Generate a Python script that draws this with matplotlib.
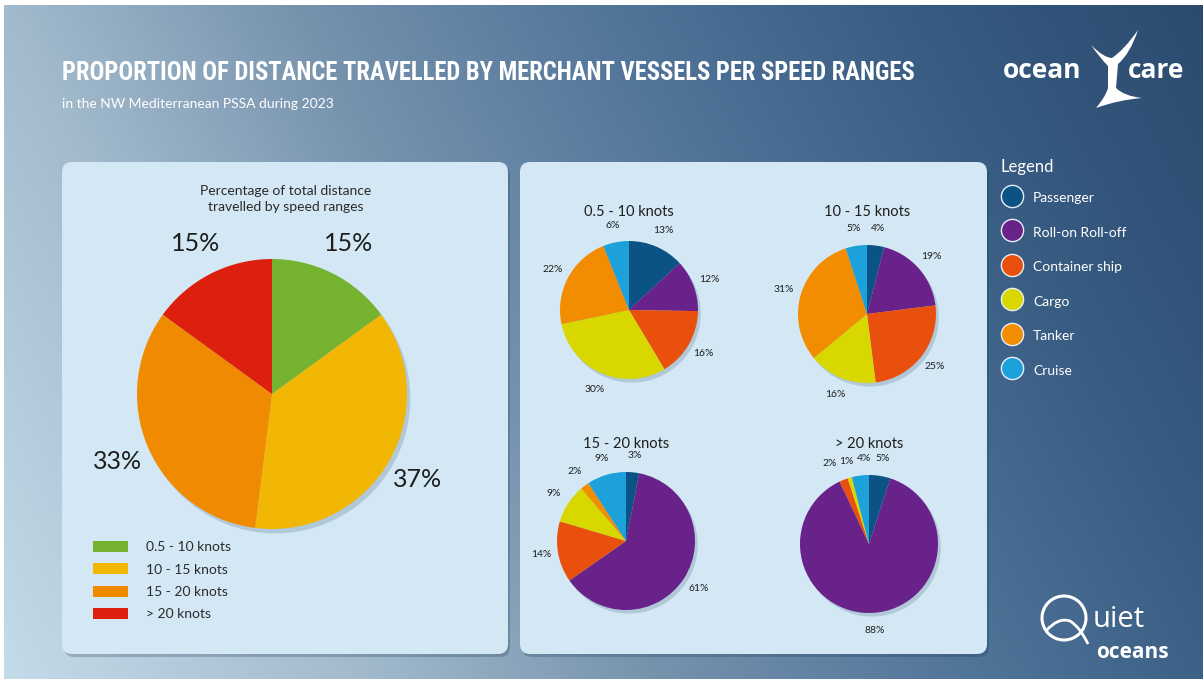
import numpy as np
import matplotlib
matplotlib.use("Agg")
import matplotlib.pyplot as plt
from matplotlib.patches import FancyBboxPatch, Circle, PathPatch
from matplotlib.path import Path
from matplotlib.lines import Line2D
from matplotlib import font_manager as fm
from matplotlib.colors import to_rgb

# ---------------- data ----------------
title = "PROPORTION OF DISTANCE TRAVELLED BY MERCHANT VESSELS PER SPEED RANGES"
subtitle = "in the NW Mediterranean PSSA during 2023"
overall_title = "Percentage of total distance\ntravelled by speed ranges"
speed_ranges = ["0.5 - 10 knots", "10 - 15 knots", "15 - 20 knots", "> 20 knots"]
speed_share = [15, 37, 33, 15]
speed_colors = ["#74b22f", "#f2b705", "#f08a00", "#dd1f0e"]

vessel_types = ["Passenger", "Roll-on Roll-off", "Container ship", "Cargo", "Tanker", "Cruise"]
vessel_colors = ["#0b5384", "#68228a", "#e9500e", "#d8d800", "#f28c00", "#1da1db"]
share_0_10 = [13, 12, 16, 30, 22, 6]
share_10_15 = [4, 19, 25, 16, 31, 5]
share_15_20 = [3, 61, 14, 9, 2, 9]
share_20_plus = [5, 88, 2, 1, 0, 4]
small_titles = ["0.5 - 10 knots", "10 - 15 knots", "15 - 20 knots", "> 20 knots"]
small_shares = [share_0_10, share_10_15, share_15_20, share_20_plus]

# ---------------- fonts ----------------
BODY = ["Lato", "DejaVu Sans"]
plt.rcParams["font.family"] = BODY

def find_condensed():
    prefs = ["robotocondensed-bold", "opensans_condensed-bold", "opensanscondensed-bold",
             "liberationsansnarrow-bold.", "dejavusanscondensed-bold."]
    files = [f.fname for f in fm.fontManager.ttflist]
    for p in prefs:
        for fn in files:
            if p in fn.lower().replace(" ", ""):
                return fn
    for fn in files:
        n = fn.lower()
        if ("condensed" in n or "narrow" in n) and "bold" in n and "italic" not in n and "oblique" not in n:
            return fn
    return None

cond = find_condensed()
title_fp = fm.FontProperties(fname=cond) if cond else fm.FontProperties(family="DejaVu Sans", weight="bold")

W, H = 1203, 679
fig = plt.figure(figsize=(W / 100, H / 100), dpi=100, facecolor="white")

# ---------------- background ----------------
bg = fig.add_axes([0, 0, 1, 1])
bg.set_xlim(0, W)
bg.set_ylim(H, 0)
bg.axis("off")

stops_s = [-0.3, 0.0, 0.25, 0.5, 0.75, 1.0]
stops_c = ["#c4dbe9", "#a2bacc", "#7592ad", "#52759a", "#385c82", "#2c4a70"]
xs = np.linspace(0, 1, 400)
ys = np.linspace(0, 1, 230)
X, Y = np.meshgrid(xs, ys)
S = X - 0.3 * Y
img = np.zeros(S.shape + (3,))
for k in range(3):
    img[..., k] = np.interp(S, stops_s, [to_rgb(c)[k] for c in stops_c])
bg.imshow(img, extent=(4, W, H, 5), aspect="auto", interpolation="bilinear", zorder=0)

panel_col = "#d3e8f4"
for (x0, y0, w, h) in [(62, 162, 446, 492), (520, 162, 467, 492)]:
    bg.add_patch(FancyBboxPatch((x0 + 2, y0 + 3), w, h, boxstyle="round,pad=0,rounding_size=10",
                                fc="#1d3550", ec="none", alpha=0.25, zorder=1))
    bg.add_patch(FancyBboxPatch((x0, y0), w, h, boxstyle="round,pad=0,rounding_size=10",
                                fc=panel_col, ec="none", zorder=2))

# title
t = bg.text(62, 73, title, color="white", fontproperties=title_fp, fontsize=18,
            va="center", ha="left", zorder=5)
fig.canvas.draw()
bb = t.get_window_extent(fig.canvas.get_renderer())
t.set_fontsize(18 * 854 / bb.width)
bg.text(62, 104, subtitle, color="white", fontsize=10, va="center", ha="left", zorder=5)

# ---------------- pies ----------------
def pie_axes(cx, cy, r):
    ax = fig.add_axes([(cx - r) / W, 1 - (cy + r) / H, 2 * r / W, 2 * r / H])
    ax.axis("off")
    return ax

def spread_labels(ax, texts, gap=3):
    texts = [tx for tx in texts if tx.get_text()]
    rend = fig.canvas.get_renderer()
    px_per_unit = ax.transData.transform((1, 0))[0] - ax.transData.transform((0, 0))[0]
    for _ in range(40):
        fig.canvas.draw()
        bbs = [tx.get_window_extent(rend) for tx in texts]
        moved = False
        for i in range(len(texts)):
            for j in range(i + 1, len(texts)):
                a, b = bbs[i], bbs[j]
                ox = min(a.x1, b.x1) - max(a.x0, b.x0) + gap
                oy = min(a.y1, b.y1) - max(a.y0, b.y0)
                if ox > 0 and oy > 0:
                    li, ri = (i, j) if (a.x0 + a.x1) < (b.x0 + b.x1) else (j, i)
                    d = ox / 2 / px_per_unit
                    x, y = texts[li].get_position()
                    texts[li].set_position((x - d, y))
                    x, y = texts[ri].get_position()
                    texts[ri].set_position((x + d, y))
                    moved = True
        if not moved:
            break

def draw_pie(ax, values, colors, fs, ldist, shadow_off):
    ax.add_patch(Circle((shadow_off, -shadow_off * 1.3), 1.0, fc="#5f7f98", ec="none",
                        alpha=0.30, zorder=0, clip_on=False))
    labels = [f"{v}%" if v > 0 else "" for v in values]
    wedges, texts = ax.pie(values, colors=colors, startangle=90, counterclock=False,
                           radius=1, labels=labels, labeldistance=ldist,
                           wedgeprops=dict(linewidth=0, zorder=1),
                           textprops=dict(fontsize=fs, color="#1e1e1e"))
    for tx in texts:
        tx.set_horizontalalignment("center")
        tx.set_verticalalignment("center")
        tx.set_clip_on(False)
    for wd in wedges:
        wd.set_clip_on(False)
    ax.set_xlim(-1, 1)
    ax.set_ylim(-1, 1)
    ax.set_aspect("equal")
    return wedges, texts

# big pie
bg.text(286, 199, overall_title, ha="center", va="center", fontsize=10,
        color="#2a2a2a", linespacing=1.35, zorder=5)
axb = pie_axes(272, 394, 135)
big_wedges, _ = draw_pie(axb, speed_share, speed_colors, 18, 1.25, 0.025)

fig.legend(big_wedges, speed_ranges, loc="upper left",
           bbox_to_anchor=(93 / W, 1 - 541 / H), frameon=False, fontsize=10,
           handlelength=2.5, handleheight=0.85, labelspacing=0.72, handletextpad=1.35,
           labelcolor="#2a2a2a", borderpad=0, borderaxespad=0)

# small pies
centers = [(629, 310), (867, 314), (626, 541), (869, 544)]
title_y = [212, 212, 444, 444]
for (cx, cy), ty, ttl, vals in zip(centers, title_y, small_titles, small_shares):
    bg.text(cx, ty, ttl, ha="center", va="center", fontsize=10.5, color="#1e1e1e", zorder=5)
    ax = pie_axes(cx, cy, 69)
    _, txts = draw_pie(ax, vals, vessel_colors, 7.5, 1.25, 0.04)
    spread_labels(ax, txts)

# vessel legend
handles = [Line2D([], [], marker="o", linestyle="none", markersize=16,
                  markerfacecolor=c, markeredgecolor="#e8eef5", markeredgewidth=1.0)
           for c in vessel_colors]
leg = fig.legend(handles, vessel_types, loc="upper left",
                 bbox_to_anchor=(1001 / W, 1 - 159 / H), frameon=False, fontsize=10,
                 title="Legend", alignment="left", labelcolor="white",
                 handlelength=1.6, handleheight=1.6, labelspacing=1.2, handletextpad=0.7,
                 borderpad=0, borderaxespad=0)
leg.get_title().set_color("white")
leg.get_title().set_fontsize(12)
leg._legend_box.sep = 10

# ---------------- logos ----------------
logo_fp = dict(color="white", fontsize=19, fontweight="bold", family=["Open Sans", "DejaVu Sans"])
bg.text(1003, 71, "ocean", ha="left", va="center", zorder=6, **logo_fp)
bg.text(1128, 71, "care", ha="left", va="center", zorder=6, **logo_fp)
tail = [
    (Path.MOVETO, (1091, 45)),
    (Path.CURVE3, (1104, 58)), (Path.CURVE3, (1112, 58)),
    (Path.CURVE3, (1124, 50)), (Path.CURVE3, (1138, 30)),
    (Path.CURVE3, (1130, 54)), (Path.CURVE3, (1118, 64)),
    (Path.LINETO, (1116, 88)),
    (Path.CURVE3, (1124, 96)), (Path.CURVE3, (1142, 98)),
    (Path.CURVE3, (1118, 100)), (Path.CURVE3, (1096, 108)),
    (Path.CURVE3, (1106, 96)), (Path.CURVE3, (1108, 88)),
    (Path.LINETO, (1108, 66)),
    (Path.CURVE3, (1100, 58)), (Path.CURVE3, (1091, 45)),
    (Path.CLOSEPOLY, (1091, 45)),
]
codes, verts = zip(*tail)
bg.add_patch(PathPatch(Path(verts, codes), fc="white", ec="none", zorder=6))

bg.add_patch(Circle((1064, 618), 22, fc="none", ec="white", lw=2.2, zorder=6))
bg.add_patch(PathPatch(Path([(1046, 631), (1058, 617), (1070, 621), (1080, 627), (1088, 644)],
                            [Path.MOVETO, Path.CURVE3, Path.CURVE3, Path.CURVE3, Path.CURVE3]),
                       fc="none", ec="white", lw=2, zorder=6))
bg.text(1093, 627, "uiet", ha="left", va="baseline", color="white", fontsize=21, zorder=6,
        family=["Open Sans", "DejaVu Sans"])
bg.text(1096, 658, "oceans", ha="left", va="baseline", color="white", fontsize=15,
        fontweight="bold", zorder=6, family=["Open Sans", "DejaVu Sans"])

fig.savefig("out.png", dpi=100, facecolor="white")
